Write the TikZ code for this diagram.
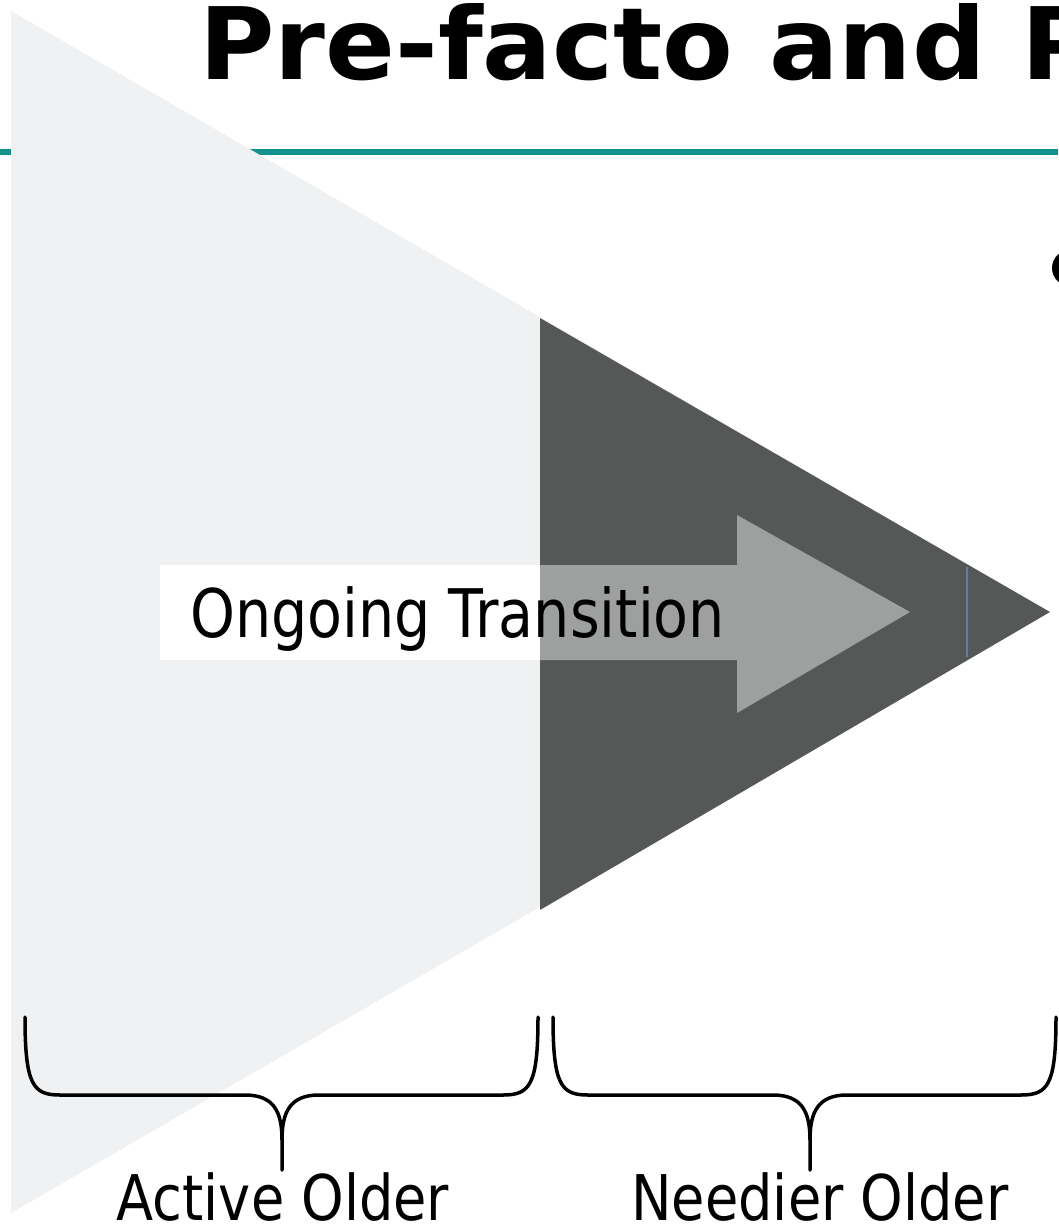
\documentclass[tikz,border=0pt]{standalone}
\usepackage{fontspec}
\setmainfont{DejaVu Sans}
\usepackage{graphicx}
\usetikzlibrary{positioning}
\definecolor{slidepale}{RGB}{240,241,242}
\definecolor{slidedark}{RGB}{86,88,87}
\definecolor{slideteal}{RGB}{20,146,142}
\definecolor{cursorblue}{RGB}{90,130,160}
\newcommand{\narrow}[1]{\scalebox{0.86}[1]{#1}}

\begin{document}
\begin{tikzpicture}[x=1pt, y=-1pt,
    label text/.style={anchor=base, inner sep=0pt, font=\fontsize{63}{70}\selectfont},
    brace line/.style={line width=3.5pt, line join=round, line cap=round}]
    \useasboundingbox (0,0) rectangle (1058,1224);
    % Title rule
    \draw[slideteal, line width=6.5pt] (0,152) -- (1058,152);
    % Pale triangle with the dark tip
    \fill[slidepale] (11,11) -- (1050,612) -- (11,1213) -- cycle;
    \fill[slidedark] (540,318) -- (1050,612) -- (540,910) -- cycle;
    % Transition arrow
    \fill[white, fill opacity=0.43] (160,565) -- (737,565) -- (737,515)
        -- (910,612) -- (737,713) -- (737,660) -- (160,660) -- cycle;
    \fill[white] (160,565) rectangle (540,660);
    \draw[cursorblue, line width=2pt] (967,567) -- (967,657);
    \node[anchor=base west, inner sep=0pt, font=\fontsize{67}{72}\selectfont]
        (transition) at (190,637) {\scalebox{0.852}[1]{Ongoing Transition}};
    % Title and bullet
    \node[anchor=base west, inner sep=0pt, font=\fontsize{100}{110}\selectfont\bfseries]
        (title) at (199,79) {\scalebox{1.03}[1]{Pre-facto and P}};
    \fill[black] (1070,268) circle (18pt);
    % Braces
    \foreach \l/\m/\r in {25/282/538, 553/810/1056} {
        \draw[brace line] (\l,1017) .. controls (\l,1085) and (\l+8,1095) .. (\l+35,1095)
            -- (\m-37,1095) .. controls (\m-8,1095) and (\m,1112) .. (\m,1140) -- (\m,1170)
            (\m,1140) .. controls (\m,1112) and (\m+8,1095) .. (\m+37,1095)
            -- (\r-35,1095) .. controls (\r-8,1095) and (\r,1085) .. (\r,1017);
    }
    % Labels
    \node[label text] (active) at (283,1220) {\narrow{Active Older}};
    \node[label text] (needier) at (820,1220) {\narrow{Needier Older}};
\end{tikzpicture}
\end{document}
